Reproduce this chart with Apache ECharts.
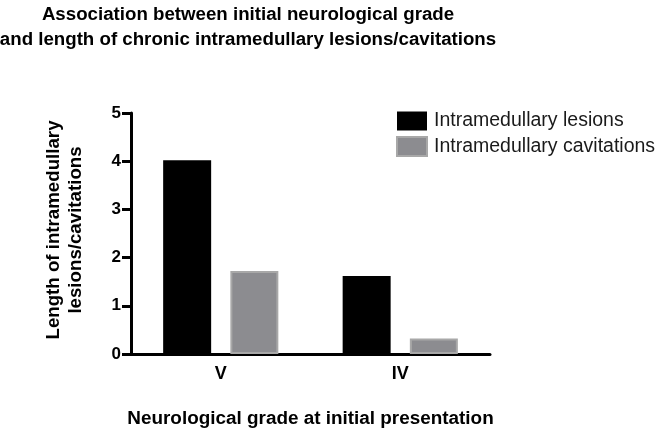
<!DOCTYPE html>
<html>
<head>
<meta charset="utf-8">
<script src="https://cdn.jsdelivr.net/npm/echarts@6/dist/echarts.min.js"></script>
<style>html,body{margin:0;padding:0;background:#fff;}#c{width:656px;height:429px;}</style>
</head>
<body>
<div id="c"></div>
<script>
const categories = ['V', 'IV'];
const lesions = [4.02, 1.62];
const cavitations = [1.72, 0.32];
const yTicks = [0, 1, 2, 3, 4, 5];

const chart = echarts.init(document.getElementById('c'), null, {renderer: 'canvas'});
const F = '"Liberation Sans", Arial, sans-serif';
chart.setOption({
  animation: false,
  backgroundColor: '#fff',
  graphic: [{
    type: 'text', x: 248, y: 2,
    style: {
      text: 'Association between initial neurological grade\nand length of chronic intramedullary lesions/cavitations',
      align: 'center', verticalAlign: 'top',
      fontFamily: F, fontWeight: 'bold', fontSize: 18.7, lineHeight: 25, fill: '#000'
    }
  }],
  legend: {
    orient: 'vertical', left: 391, top: 106, itemWidth: 30, itemHeight: 19, itemGap: 5,
    icon: 'rect',
    textStyle: {fontFamily: F, fontSize: 19.5, color: '#1a1a1a', padding: [0, 0, 0, 2]},
    data: ['Intramedullary lesions', 'Intramedullary cavitations']
  },
  grid: {left: 131, right: 166, top: 113, bottom: 75, containLabel: false, outerBoundsMode: 'none'},
  xAxis: {
    type: 'category', data: categories,
    axisLine: {lineStyle: {color: '#000', width: 3}},
    axisTick: {alignWithLabel: true, length: 8, lineStyle: {color: '#000', width: 3}},
    axisLabel: {fontFamily: F, fontWeight: 'bold', fontSize: 18, color: '#000', margin: 11},
    name: 'Neurological grade at initial presentation', nameLocation: 'middle', nameGap: 55,
    nameTextStyle: {fontFamily: F, fontWeight: 'bold', fontSize: 18.9, color: '#000'}
  },
  yAxis: {
    type: 'value', min: 0, max: 5, interval: 1,
    splitLine: {show: false},
    axisLine: {show: true, lineStyle: {color: '#000', width: 3}},
    axisTick: {show: true, length: 9, lineStyle: {color: '#000', width: 3}},
    axisLabel: {fontFamily: F, fontWeight: 'bold', fontSize: 17, color: '#000', margin: 10,
      formatter: v => yTicks.includes(v) ? String(v) : ''},
    name: 'Length of intramedullary\nlesions/cavitations', nameLocation: 'middle', nameGap: 44,
    nameTextStyle: {fontFamily: F, fontWeight: 'bold', fontSize: 18.7, lineHeight: 22, color: '#000',
      padding: [0, 0, 0, 7]}
  },
  series: [
    {name: 'Intramedullary lesions', type: 'bar', data: lesions, barWidth: 48, barGap: '40%',
      itemStyle: {color: '#000'}},
    {name: 'Intramedullary cavitations', type: 'bar', data: cavitations, barWidth: 48,
      itemStyle: {color: '#8c8c90', borderColor: '#a8a8a8', borderWidth: 2}}
  ]
});
</script>
</body>
</html>
